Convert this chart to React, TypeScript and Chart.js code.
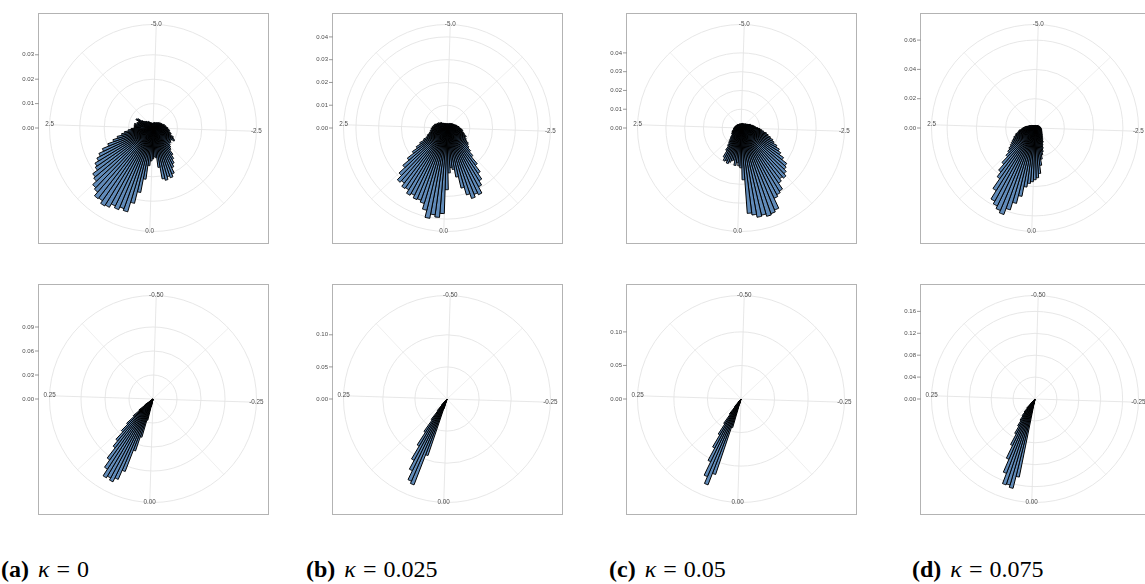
import React, { useEffect, useRef } from 'react';
import { Chart, registerables } from 'chart.js';

Chart.register(...registerables);

// ---------------- data ----------------
// Top row: histogram over theta in [-5, 5], 120 bins (density values)
const TOP_BINS = 120;
const TOP_A = [
  .0020, .0022, .0018, .0020, .0024, .0020, .0022, .0024, .0020, .0024,
  .0027, .0022, .0029, .0027, .0029, .0033, .0029, .0035, .0037, .0033,
  .0039, .0041, .0037, .0045, .0049, .0045, .0053, .0049, .0057, .0061,
  .0057, .0065, .0069, .0065, .0073, .0078, .0073, .0090, .0094, .0102,
  .0090, .0086, .0094, .0090, .0098, .0106, .0114, .0135, .0151, .0167,
  .0180, .0204, .0216, .0208, .0220, .0212, .0163, .0122, .0118, .0127,
  .0135, .0155, .0212, .0269, .0318, .0359, .0351, .0363, .0355, .0371,
  .0376, .0363, .0367, .0347, .0339, .0318, .0310, .0286, .0278, .0261,
  .0245, .0224, .0196, .0171, .0151, .0131, .0118, .0102, .0090, .0078,
  .0073, .0078, .0069, .0078, .0065, .0069, .0061, .0065, .0078, .0073,
  .0053, .0045, .0041, .0037, .0039, .0033, .0031, .0033, .0027, .0029,
  .0024, .0022, .0024, .0020, .0022, .0018, .0020, .0020, .0018, .0020,
];
const TOP_B = [
  .0018, .0020, .0018, .0015, .0018, .0020, .0018, .0022, .0020, .0022,
  .0024, .0022, .0026, .0022, .0026, .0028, .0026, .0031, .0028, .0033,
  .0035, .0033, .0039, .0037, .0044, .0044, .0048, .0053, .0048, .0057,
  .0061, .0066, .0070, .0066, .0074, .0079, .0083, .0092, .0088, .0096,
  .0101, .0114, .0118, .0127, .0144, .0166, .0206, .0241, .0271, .0293,
  .0324, .0315, .0328, .0306, .0271, .0219, .0184, .0175, .0197, .0271,
  .0376, .0394, .0385, .0404, .0372, .0346, .0337, .0341, .0328, .0337,
  .0319, .0324, .0306, .0315, .0289, .0254, .0219, .0184, .0158, .0136,
  .0114, .0096, .0092, .0083, .0079, .0070, .0074, .0066, .0070, .0061,
  .0066, .0057, .0061, .0053, .0057, .0053, .0044, .0048, .0039, .0044,
  .0035, .0039, .0033, .0035, .0031, .0026, .0028, .0026, .0022, .0024,
  .0022, .0020, .0022, .0018, .0020, .0018, .0020, .0018, .0015, .0018,
];
const TOP_C = [
  .0021, .0024, .0021, .0021, .0024, .0021, .0027, .0024, .0021, .0027,
  .0024, .0027, .0029, .0027, .0032, .0029, .0032, .0034, .0037, .0040,
  .0042, .0048, .0053, .0053, .0058, .0064, .0069, .0074, .0080, .0090,
  .0101, .0111, .0122, .0138, .0149, .0164, .0180, .0191, .0212, .0233,
  .0249, .0276, .0308, .0318, .0334, .0350, .0340, .0355, .0393, .0403,
  .0414, .0472, .0483, .0490, .0477, .0483, .0467, .0456, .0276, .0212,
  .0202, .0186, .0202, .0175, .0180, .0191, .0202, .0191, .0196, .0180,
  .0143, .0117, .0101, .0090, .0080, .0074, .0064, .0058, .0053, .0058,
  .0048, .0053, .0042, .0048, .0042, .0037, .0042, .0037, .0040, .0034,
  .0037, .0032, .0034, .0032, .0029, .0032, .0027, .0029, .0027, .0024,
  .0027, .0024, .0027, .0021, .0024, .0021, .0024, .0021, .0021, .0024,
  .0021, .0019, .0021, .0021, .0024, .0021, .0019, .0021, .0021, .0024,
];
const TOP_D = [
  .0017, .0014, .0017, .0014, .0017, .0020, .0017, .0014, .0017, .0020,
  .0017, .0020, .0020, .0024, .0020, .0024, .0024, .0027, .0024, .0027,
  .0027, .0031, .0027, .0034, .0031, .0034, .0037, .0034, .0041, .0037,
  .0041, .0044, .0041, .0048, .0044, .0048, .0051, .0048, .0054, .0054,
  .0058, .0061, .0061, .0068, .0068, .0075, .0081, .0088, .0095, .0109,
  .0115, .0129, .0149, .0170, .0190, .0217, .0258, .0312, .0340, .0353,
  .0367, .0380, .0407, .0475, .0530, .0584, .0628, .0611, .0591, .0570,
  .0503, .0421, .0380, .0326, .0272, .0244, .0224, .0204, .0190, .0177,
  .0163, .0156, .0143, .0136, .0122, .0115, .0109, .0095, .0088, .0081,
  .0075, .0068, .0061, .0054, .0048, .0044, .0041, .0037, .0034, .0031,
  .0027, .0027, .0024, .0024, .0020, .0024, .0020, .0020, .0017, .0020,
  .0017, .0020, .0017, .0014, .0017, .0017, .0014, .0017, .0014, .0017,
];

// Bottom row: histogram over theta in [-0.5, 0.5], 150 bins; only non-empty bins listed
const BOTTOM_BINS = 150;
const BOT_A_START = 78;
const BOT_A = [.0025, .0100, .0274, .0498, .0685, .0971, .1095, .1150, .1120, .1145, .1046, .0934, .0772, .0685, .0560, .0448, .0324, .0224, .0124, .0050];
const BOT_B_START = 80;
const BOT_B = [.0047, .0155, .0930, .1433, .1395, .1240, .1085, .0853, .0620, .0403, .0233, .0124, .0047];
const BOT_C_START = 80;
const BOT_C = [.0074, .0445, .1187, .1371, .1261, .1039, .0831, .0623, .0445, .0282, .0148, .0059];
const BOT_D_START = 78;
const BOT_D = [.0091, .1455, .1680, .1636, .1655, .1455, .1200, .0945, .0727, .0582, .0473, .0382, .0309, .0218, .0109, .0036];

// radial axis
const TOP_R_MAX = [0.0377, 0.0404, 0.0490, 0.0628];
const TOP_R_TICKS = [
  [0, 0.01, 0.02, 0.03],
  [0, 0.01, 0.02, 0.03, 0.04],
  [0, 0.01, 0.02, 0.03, 0.04],
  [0, 0.02, 0.04, 0.06],
];
const BOT_R_MAX = [0.115, 0.1433, 0.1371, 0.168];
const BOT_R_TICKS = [
  [0, 0.03, 0.06, 0.09],
  [0, 0.05, 0.10],
  [0, 0.05, 0.10],
  [0, 0.04, 0.08, 0.12, 0.16],
];

// theta axis
const TOP_THETA_MIN = -5;
const TOP_THETA_WIDTH = 10;
const TOP_THETA_BREAKS = [-5, -2.5, 0, 2.5];
const TOP_THETA_LABELS = ['-5.0', '-2.5', '0.0', '2.5'];
const TOP_THETA_MINOR = [-3.75, -1.25, 1.25, 3.75];
const BOT_THETA_MIN = -0.5;
const BOT_THETA_WIDTH = 1;
const BOT_THETA_BREAKS = [-0.5, -0.25, 0, 0.25];
const BOT_THETA_LABELS = ['-0.50', '-0.25', '0.00', '0.25'];
const BOT_THETA_MINOR = [-0.375, -0.125, 0.125, 0.375];

const CAPTION_TAGS = ['(a)', '(b)', '(c)', '(d)'];
const CAPTION_KAPPA = ['0', '0.025', '0.05', '0.075'];

// ---------------- layout / style ----------------
const COL_CX = [153, 447, 741, 1035];
const ROW_CY = [128, 399];
const CAPTION_X = [1, 306, 609, 912];
const CANVAS_W = 270;
const CANVAS_H = 256;
const RADIUS = 92;
const ROT = 1.8;
const OUTER_RATIO = 0.45 / 0.4;
const BOX_RATIO = 0.5 / 0.4;
const GRID = '#e4e4e4';
const BAR_FILL = '#618bb9';
const AXIS_TEXT = '#4d4d4d';

type Panel = {
  key: string;
  values: number[];
  rMax: number;
  rTicks: number[];
  thetaMin: number;
  thetaWidth: number;
  breaks: number[];
  labels: string[];
  minor: number[];
  cx: number;
  cy: number;
};

function fullBins(n: number, start: number, vals: number[]) {
  const out: number[] = new Array(n).fill(0);
  vals.forEach((v, i) => { out[start + i] = v; });
  return out;
}

const TOP_VALUES = [TOP_A, TOP_B, TOP_C, TOP_D];
const BOT_VALUES = [
  fullBins(BOTTOM_BINS, BOT_A_START, BOT_A),
  fullBins(BOTTOM_BINS, BOT_B_START, BOT_B),
  fullBins(BOTTOM_BINS, BOT_C_START, BOT_C),
  fullBins(BOTTOM_BINS, BOT_D_START, BOT_D),
];

const PANELS: Panel[] = [
  ...TOP_VALUES.map((values, i) => ({
    key: 'top' + i, values, rMax: TOP_R_MAX[i], rTicks: TOP_R_TICKS[i],
    thetaMin: TOP_THETA_MIN, thetaWidth: TOP_THETA_WIDTH,
    breaks: TOP_THETA_BREAKS, labels: TOP_THETA_LABELS, minor: TOP_THETA_MINOR,
    cx: COL_CX[i], cy: ROW_CY[0],
  })),
  ...BOT_VALUES.map((values, i) => ({
    key: 'bot' + i, values, rMax: BOT_R_MAX[i], rTicks: BOT_R_TICKS[i],
    thetaMin: BOT_THETA_MIN, thetaWidth: BOT_THETA_WIDTH,
    breaks: BOT_THETA_BREAKS, labels: BOT_THETA_LABELS, minor: BOT_THETA_MINOR,
    cx: COL_CX[i], cy: ROW_CY[1],
  })),
];

function decorPlugin(p: Panel) {
  const ang = (v: number) => (ROT + ((v - p.thetaMin) / p.thetaWidth) * 360) * Math.PI / 180;
  return {
    id: 'decor',
    beforeDatasetsDraw(chart: any) {
      const s = chart.scales.r;
      const ctx = chart.ctx as CanvasRenderingContext2D;
      const cx = s.xCenter, cy = s.yCenter, R = s.drawingArea;
      const outer = R * OUTER_RATIO;
      ctx.save();
      ctx.strokeStyle = GRID;
      const spoke = (v: number, w: number) => {
        const a = ang(v);
        ctx.lineWidth = w;
        ctx.beginPath();
        ctx.moveTo(cx, cy);
        ctx.lineTo(cx + Math.sin(a) * outer, cy - Math.cos(a) * outer);
        ctx.stroke();
      };
      p.minor.forEach((v) => spoke(v, 0.6));
      p.breaks.forEach((v) => spoke(v, 0.9));
      ctx.lineWidth = 0.9;
      ctx.beginPath();
      ctx.arc(cx, cy, outer, 0, Math.PI * 2);
      ctx.stroke();
      ctx.restore();
    },
    afterDraw(chart: any) {
      const s = chart.scales.r;
      const ctx = chart.ctx as CanvasRenderingContext2D;
      const cx = s.xCenter, cy = s.yCenter, R = s.drawingArea;
      const outer = R * OUTER_RATIO;
      const half = R * BOX_RATIO;
      ctx.save();
      // panel border
      ctx.strokeStyle = '#b3b3b3';
      ctx.lineWidth = 1;
      const bx = Math.round(cx - half) + 0.5;
      const by = Math.round(cy - half) + 0.5;
      ctx.strokeRect(bx, by, Math.round(2 * half), Math.round(2 * half));
      // theta labels
      ctx.fillStyle = AXIS_TEXT;
      ctx.font = '6.3px "Liberation Sans", Arial, sans-serif';
      ctx.textAlign = 'center';
      ctx.textBaseline = 'middle';
      p.breaks.forEach((v, i) => {
        const a = ang(v);
        ctx.fillText(p.labels[i], cx + Math.sin(a) * outer, cy - Math.cos(a) * outer);
      });
      // radial axis on the left
      ctx.textAlign = 'right';
      ctx.font = '6px "Liberation Sans", Arial, sans-serif';
      ctx.strokeStyle = '#555';
      ctx.lineWidth = 0.6;
      p.rTicks.forEach((v) => {
        const y = cy - s.getDistanceFromCenterForValue(v);
        ctx.beginPath();
        ctx.moveTo(bx - 3.5, y);
        ctx.lineTo(bx, y);
        ctx.stroke();
        ctx.fillText(v.toFixed(2), bx - 4.5, y);
      });
      ctx.restore();
    },
  };
}

function PolarPanel({ p }: { p: Panel }) {
  const ref = useRef<HTMLCanvasElement>(null);
  useEffect(() => {
    if (!ref.current) return;
    const n = p.values.length;
    const chart = new Chart(ref.current, {
      type: 'polarArea',
      data: {
        labels: p.values.map((_, i) => (p.thetaMin + ((i + 0.5) * p.thetaWidth) / n).toFixed(3)),
        datasets: [{
          data: p.values,
          backgroundColor: BAR_FILL,
          borderColor: '#000',
          borderWidth: 1,
        }],
      },
      options: {
        responsive: false,
        animation: false,
        events: [],
        layout: {
          padding: {
            left: CANVAS_W / 2 - RADIUS,
            right: CANVAS_W / 2 - RADIUS,
            top: CANVAS_H / 2 - RADIUS,
            bottom: CANVAS_H / 2 - RADIUS,
          },
        },
        plugins: { legend: { display: false }, tooltip: { enabled: false } },
        scales: {
          r: {
            min: 0,
            max: p.rMax,
            startAngle: ROT,
            ticks: { display: false },
            grid: { circular: true, color: GRID, lineWidth: 0.9 },
            angleLines: { display: false },
            pointLabels: { display: false },
            afterBuildTicks: (scale: any) => {
              scale.ticks = p.rTicks.map((v) => ({ value: v }));
            },
          } as any,
        },
      } as any,
      plugins: [decorPlugin(p) as any],
    });
    return () => chart.destroy();
  }, [p]);
  return (
    <canvas
      ref={ref}
      width={CANVAS_W}
      height={CANVAS_H}
      style={{ position: 'absolute', left: p.cx - CANVAS_W / 2, top: p.cy - CANVAS_H / 2, width: CANVAS_W, height: CANVAS_H }}
    />
  );
}

export default function App() {
  return (
    <div style={{ position: 'absolute', left: 0, top: 0, width: 1145, height: 584, overflow: 'hidden', background: '#fff' }}>
      {PANELS.map((p) => <PolarPanel key={p.key} p={p} />)}
      {CAPTION_TAGS.map((tag, i) => (
        <div
          key={tag}
          style={{
            position: 'absolute', left: CAPTION_X[i], top: 557, whiteSpace: 'nowrap',
            fontFamily: '"Liberation Serif", "DejaVu Serif", serif', fontSize: 24, lineHeight: '24px', color: '#000',
          }}
        >
          <b>{tag}</b>
          <i style={{ marginLeft: 9 }}>κ</i>
          <span style={{ margin: '0 7px' }}>=</span>
          <span>{CAPTION_KAPPA[i]}</span>
        </div>
      ))}
    </div>
  );
}
